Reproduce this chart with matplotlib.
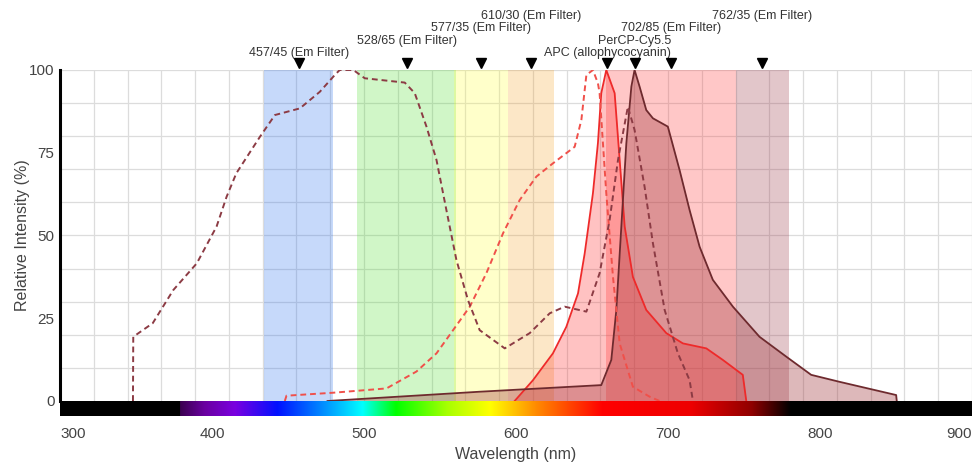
import numpy as np
import matplotlib
matplotlib.use("Agg")
import matplotlib.pyplot as plt

plt.rcParams['font.family'] = ['Liberation Sans', 'DejaVu Sans']

# emission filters: center / bandwidth (nm)
filter_center = [457, 528, 577, 610, 702, 762]
filter_width = [45, 65, 35, 30, 85, 35]
filter_colors = ['#3377ee', '#44dd22', '#ffff44', '#f5a020', '#ff3333', '#993344']
filter_alpha = [0.28, 0.25, 0.28, 0.25, 0.27, 0.28]

# dye peak markers
dye_names = ['APC (allophycocyanin)', 'PerCP-Cy5.5']
dye_peaks = [660, 678]

# PerCP-Cy5.5 excitation (dashed)
percp_ex_nm = [348, 348.2, 361, 374.5, 390, 403, 409.6, 416, 431.5, 441.4, 457.8, 470.9,
               480.8, 484, 493, 500.5, 526.8, 533.4, 541.1, 547.7, 554.2, 560.8, 568.4,
               576.1, 592.6, 609, 622.2, 632, 646.3, 655, 661.6, 667.1, 673.6, 678,
               684.6, 690.1, 697.8, 706.5, 714.2, 716.4]
percp_ex = [0, 19.4, 23.5, 33.5, 41.6, 52.7, 61.7, 68.8, 79.8, 86.4, 88.4, 93.4,
            98.5, 100, 100, 97.5, 96.2, 93, 82.9, 72.8, 57.7, 42.6, 30.5,
            21.4, 15.9, 20.5, 26.5, 28.5, 27, 38.6, 54.7, 72.8, 88.9, 81.9,
            64.7, 47.6, 27.5, 14.4, 6.3, 0]

# APC excitation (dashed)
apc_ex_nm = [447.9, 449, 479.7, 514.8, 534.5, 547.7, 558.6, 569.6, 580.5, 591.5, 602.4,
             613.4, 624.3, 638.6, 643, 646.3, 650.6, 653.9, 655, 659.4, 663.8, 668.2,
             676.9, 687.9, 694.5]
apc_ex = [0, 1.6, 2.5, 3.8, 8.9, 14.4, 21.4, 28.5, 38.6, 50.7, 60.7,
          67.8, 71.8, 76.8, 84.9, 98.5, 100, 96, 93, 62.7, 37.5, 17.4,
          4.3, 1.3, 0]

# APC emission (solid, filled)
apc_em_nm = [599.1, 611.2, 624.3, 633.1, 640.8, 645.2, 650.6, 653.9, 656.1, 659.4, 664.9,
             668.2, 671.5, 676.9, 685.7, 698.9, 709.8, 725.2, 736.1, 749.2, 751.5]
apc_em = [0, 6.3, 14.4, 22.4, 32.5, 44.6, 62.7, 77.9, 93, 100, 93,
          72.8, 52.7, 37.5, 27.5, 20.5, 17.4, 15.9, 12.4, 7.9, 0]

# PerCP-Cy5.5 emission (solid, filled)
percp_em_nm = [476, 576, 656.1, 662.7, 666, 669.3, 672.6, 675.9, 678, 681.3, 685.7,
               690.1, 699.9, 707.6, 714.2, 720.8, 729.5, 742.7, 760.2, 777.8, 794.2,
               812.8, 850.1, 850.5]
percp_em = [0, 2.8, 4.8, 12.4, 27.5, 52.7, 77.9, 95, 100, 95, 87.9,
            85.4, 82.9, 69.8, 57.7, 46.6, 36.6, 28.5, 19.4, 13.4, 7.9,
            5.8, 1.8, 0]

# visible spectrum strip anchors
spec_nm = [379, 395, 415, 443, 470, 499, 521, 555, 583, 614, 657, 715, 755, 781]
spec_rgb = ['#3a0050', '#6a00a0', '#7a00e0', '#0010ff', '#0080ff', '#00ffff', '#00ff00',
            '#a8ff00', '#ffff00', '#ff8800', '#ff0000', '#ee0000', '#900000', '#000000']

fig = plt.figure(figsize=(9.73, 4.66), dpi=100)
ax = fig.add_axes([60 / 973, 65 / 466, 912 / 973, 331 / 466])
bar = fig.add_axes([60 / 973, 50 / 466, 912 / 973, 15 / 466])

# grid
for gx in np.linspace(300, 900, 28):
    ax.axvline(gx, color='#dcdcdc', lw=0.9, zorder=0.5)
for gy in range(10, 101, 10):
    ax.axhline(gy, color='#dcdcdc', lw=0.9, zorder=0.5)

# filter bands
for c, w, col, a in zip(filter_center, filter_width, filter_colors, filter_alpha):
    ax.axvspan(c - w / 2, c + w / 2, color=col, alpha=a, lw=0, zorder=1)

# emission curves
ax.fill_between(apc_em_nm, apc_em, 0, color='#ff2020', alpha=0.27, lw=0, zorder=2)
ax.plot(apc_em_nm, apc_em, color='#ee2a2a', lw=1.3, zorder=3)
ax.fill_between(percp_em_nm, percp_em, 0, color='#9a2a30', alpha=0.33, lw=0, zorder=2)
ax.plot(percp_em_nm, percp_em, color='#6e2a2e', lw=1.3, zorder=3)

# excitation curves
ax.plot(apc_ex_nm, apc_ex, color='#f0504a', lw=1.4, ls=(0, (3, 2)), zorder=4)
ax.plot(percp_ex_nm, percp_ex, color='#8c3b44', lw=1.4, ls=(0, (3, 2)), zorder=4)

ax.set_xlim(300, 900)
ax.set_ylim(0, 100)
ax.set_xticks([])
ax.set_yticks([0, 25, 50, 75, 100])
ax.tick_params(axis='y', length=0, pad=4, labelsize=11, labelcolor='#444444')
for s in ['top', 'right', 'bottom']:
    ax.spines[s].set_visible(False)
ax.spines['left'].set_linewidth(2.2)
ax.spines['left'].set_color('black')
ax.set_ylabel('Relative Intensity (%)', fontsize=11.5, color='#444444')
ax.yaxis.set_label_coords(-30 / 912, 0.5)

# markers and labels above the plot
marks = sorted([(c, f'{c}/{w} (Em Filter)') for c, w in zip(filter_center, filter_width)]
               + list(zip(dye_peaks, dye_names)))
for i, (pos, name) in enumerate(marks):
    ax.plot([pos], [1 + 7 / 331], marker='v', color='black', markersize=7,
            transform=ax.get_xaxis_transform(), clip_on=False, zorder=5)
    ax.annotate(name, xy=(pos, 1), xycoords=('data', 'axes fraction'),
                xytext=(0, 17 + 12.4 * (i % 4)), textcoords='offset pixels',
                ha='center', va='center', fontsize=9, color='#333333')

# spectrum strip
lam = np.linspace(300, 900, 1200)
rgb = np.array([matplotlib.colors.to_rgb(c) for c in spec_rgb])
img = np.zeros((1, lam.size, 3))
inside = (lam >= spec_nm[0]) & (lam <= spec_nm[-1])
for k in range(3):
    img[0, :, k] = np.where(inside, np.interp(lam, spec_nm, rgb[:, k]), 0)
bar.imshow(img, extent=[300, 900, 0, 1], aspect='auto')
bar.set_xlim(300, 900)
bar.set_yticks([])
bar.set_xticks(range(300, 901, 100))
bar.tick_params(axis='x', length=0, pad=8, labelsize=11, labelcolor='#444444')
labels = bar.get_xticklabels()
labels[0].set_ha('left')
labels[-1].set_ha('right')
for s in bar.spines.values():
    s.set_visible(False)
bar.set_xlabel('Wavelength (nm)', fontsize=11.5, color='#444444')
bar.xaxis.set_label_coords(0.5, -2.1)

fig.savefig('out.png', dpi=100)
